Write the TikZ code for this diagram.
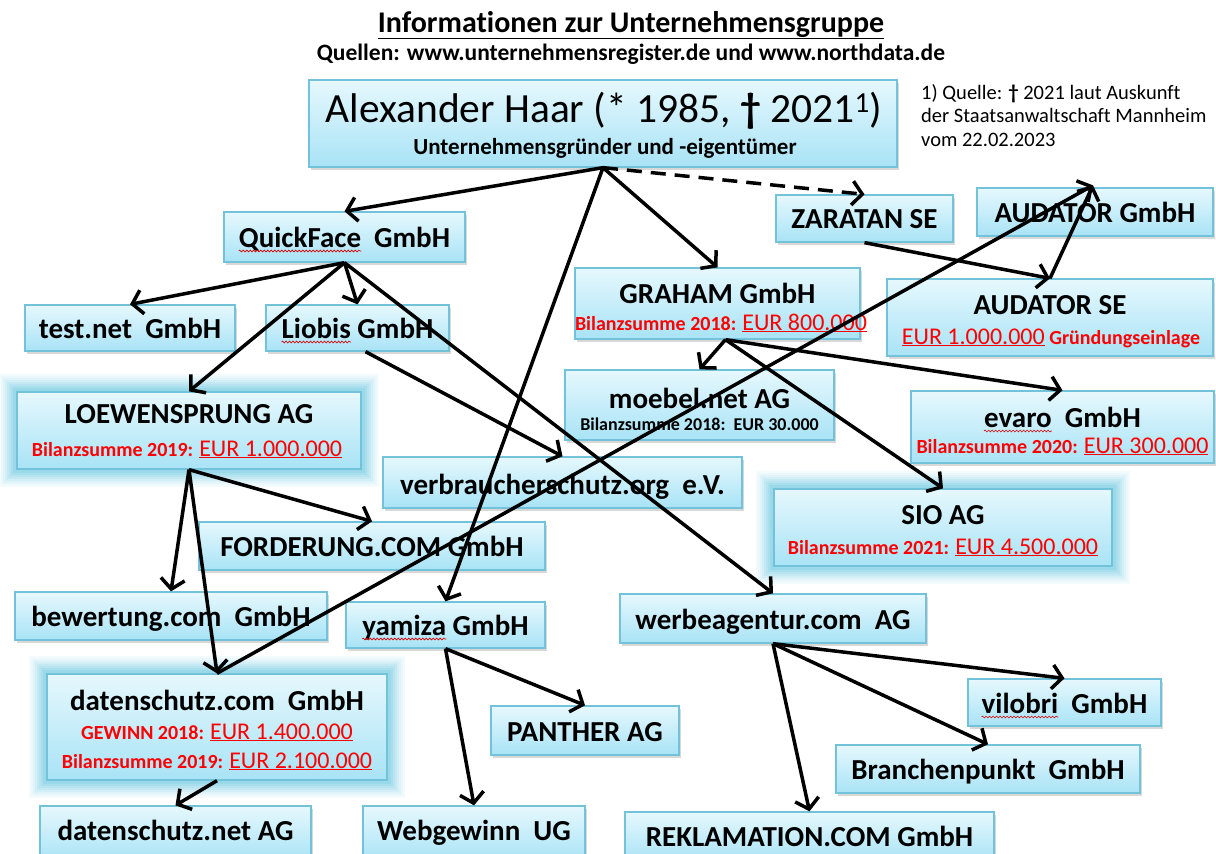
\documentclass[tikz,border=0pt]{standalone}
\usepackage{fontspec}
\setmainfont[Ligatures=CommonOff]{Carlito}
\usetikzlibrary{arrows.meta,shadows,calc,decorations.pathmorphing}
\definecolor{boxtop}{HTML}{E6F8FD}
\definecolor{boxbot}{HTML}{A8E3F6}
\definecolor{boxline}{HTML}{72C2D9}
\definecolor{glowc}{HTML}{33B5DC}
\definecolor{redt}{HTML}{FF0000}
\newcommand\bxfont{\bfseries\fontsize{29}{32}\selectfont}
\newcommand\rdfont{\bfseries\fontsize{20}{22}\selectfont\color{redt}}
\newcommand\eurtxt[1]{{\mdseries\fontsize{24}{26}\selectfont\underline{#1}}}
\begin{document}
\begin{tikzpicture}[x=1pt,y=-1pt,
  box/.style={draw=boxline, line width=1.3pt, top color=boxtop, bottom color=boxbot,
    drop shadow={shadow xshift=2pt, shadow yshift=-2.5pt, opacity=0.3}, inner sep=0pt},
  glowbox/.style={draw=boxline, line width=1.3pt, top color=boxtop, bottom color=boxbot, inner sep=0pt,
    preaction={draw=glowc, line width=36pt, opacity=0.05, rounded corners=18pt},
    preaction={draw=glowc, line width=32pt, opacity=0.05, rounded corners=16pt},
    preaction={draw=glowc, line width=28pt, opacity=0.06, rounded corners=14pt},
    preaction={draw=glowc, line width=24pt, opacity=0.07, rounded corners=12pt},
    preaction={draw=glowc, line width=20pt, opacity=0.08, rounded corners=10pt},
    preaction={draw=glowc, line width=16pt, opacity=0.09, rounded corners=8pt},
    preaction={draw=glowc, line width=12pt, opacity=0.10, rounded corners=6pt},
    preaction={draw=glowc, line width=8pt, opacity=0.12, rounded corners=4pt}},
  txt/.style={inner sep=0pt, anchor=base},
  ghost/.style={inner sep=0pt, anchor=base west},
  squig/.style={draw=red!85!black, line width=0.6pt, decorate,
    decoration={snake, segment length=3.5pt, amplitude=0.9pt}},
  arr/.style={line width=3.5pt, -{Straight Barb[length=10pt,width=24pt]}},
  dsh/.style={arr, dash pattern=on 15pt off 9pt}]
\fill[white] (0,0) rectangle (1216,854);
\useasboundingbox (0,0) rectangle (1216,854);

% title
\node[txt, font=\bfseries\fontsize{30}{32}\selectfont] (title) at (631,32) {\underline{Informationen zur Unternehmensgruppe}};
\node[txt, font=\bfseries\fontsize{23.5}{25}\selectfont] (src) at (631,60) {Quellen: www.unternehmensregister.de und www.northdata.de};

% note
\node[inner sep=0pt, anchor=north west, align=left, font=\fontsize{20.5}{23.5}\selectfont] (note) at (921,84)
  {1) Quelle: \textbf{†} 2021 laut Auskunft\\der Staatsanwaltschaft Mannheim\\vom 22.02.2023};

% boxes
\node[box, minimum width=588pt, minimum height=87pt] (top) at (603,123.5) {};
\node[box, minimum width=241pt, minimum height=50pt] (qf) at (344.5,237) {};
\node[box, minimum width=177pt, minimum height=47pt] (zar) at (864.5,218.5) {};
\node[box, minimum width=236pt, minimum height=48pt] (audg) at (1095,212) {};
\node[box, minimum width=285pt, minimum height=71pt] (graham) at (717.5,303.5) {};
\node[box, minimum width=326pt, minimum height=77pt] (auds) at (1050,317.5) {};
\node[box, minimum width=210pt, minimum height=46pt] (testnet) at (130,328) {};
\node[box, minimum width=183pt, minimum height=46pt] (liobis) at (357.5,328) {};
\node[glowbox, minimum width=344pt, minimum height=77pt] (loew) at (189,430.5) {};
\node[box, minimum width=269pt, minimum height=70pt] (moebel) at (699.5,405) {};
\node[box, minimum width=303pt, minimum height=72pt] (evaro) at (1062.5,427) {};
\node[box, minimum width=359pt, minimum height=51pt] (verb) at (562.5,482.5) {};
\node[glowbox, minimum width=338pt, minimum height=77pt] (sio) at (943,527.5) {};
\node[box, minimum width=346pt, minimum height=48pt] (ford) at (372,546) {};
\node[box, minimum width=312pt, minimum height=48pt] (bew) at (171,616) {};
\node[box, minimum width=199pt, minimum height=46pt] (yamiza) at (445.5,625) {};
\node[box, minimum width=306pt, minimum height=49pt] (werbe) at (773,618.5) {};
\node[glowbox, minimum width=340pt, minimum height=106pt] (dscom) at (217,727) {};
\node[box, minimum width=193pt, minimum height=47pt] (vilobri) at (1064.5,702.5) {};
\node[box, minimum width=188pt, minimum height=49pt] (panther) at (585,730.5) {};
\node[box, minimum width=304pt, minimum height=48pt] (branch) at (988,769) {};
\node[box, minimum width=271pt, minimum height=56pt] (dsnet) at (175.5,834) {};
\node[box, minimum width=222pt, minimum height=56pt] (webg) at (474,834) {};
\node[box, minimum width=369pt, minimum height=50pt] (rekl) at (809.5,837) {};

% texts
\node[txt, font=\fontsize{41.5}{44}\selectfont] (topt) at (604,122) {Alexander Haar (* 1985, \textbf{†} 2021\textsuperscript{1})};
\node[txt, font=\bfseries\fontsize{23}{25}\selectfont] (tops) at (605,154) {Unternehmensgründer und -eigentümer};

\node[txt, font=\bxfont] (qft) at (344.5,247) {QuickFace\ \ GmbH};
\node[txt, font=\bxfont] (zart) at (864.5,228) {ZARATAN SE};
\node[txt, font=\bxfont] (audgt) at (1095,222) {AUDATOR GmbH};
\node[txt, font=\bxfont] (grahamt) at (717.5,303) {GRAHAM GmbH};
\node[txt] (grahamr) at (721,330) {\rdfont Bilanzsumme 2018: \eurtxt{EUR 800.000}};
\node[txt, font=\bxfont] (audst) at (1050,314) {AUDATOR SE};
\node[txt] (audsr) at (1051,344) {\rdfont \eurtxt{EUR 1.000.000} Gründungseinlage};
\node[txt, font=\bxfont] (testnett) at (130,338) {test.net\ \ GmbH};
\node[txt, font=\bxfont] (liobist) at (357.5,338) {Liobis GmbH};
\node[txt, font=\bxfont] (loewt) at (189,423) {LOEWENSPRUNG AG};
\node[txt] (loewr) at (187,456) {\rdfont Bilanzsumme 2019: \eurtxt{EUR 1.000.000}};
\node[txt, font=\bxfont] (moebelt) at (699.5,408) {moebel.net AG};
\node[txt, font=\bfseries\fontsize{18}{20}\selectfont] (moebels) at (699.5,430) {Bilanzsumme 2018:\ \ EUR 30.000};
\node[txt, font=\bxfont] (evarot) at (1062.5,427) {evaro\ \ GmbH};
\node[txt] (evaror) at (1062.5,453) {\rdfont Bilanzsumme 2020: \eurtxt{EUR 300.000}};
\node[txt, font=\bxfont] (verbt) at (562.5,494) {verbraucherschutz.org\ \ e.V.};
\node[txt, font=\bxfont] (siot) at (943,524) {SIO AG};
\node[txt] (sior) at (943,554) {\rdfont Bilanzsumme 2021: \eurtxt{EUR 4.500.000}};
\node[txt, font=\bxfont] (fordt) at (372,556) {FORDERUNG.COM GmbH};
\node[txt, font=\bxfont] (bewt) at (171,626) {bewertung.com\ \ GmbH};
\node[txt, font=\bxfont] (yamizat) at (445.5,635) {yamiza GmbH};
\node[txt, font=\bxfont] (werbet) at (773,629) {werbeagentur.com\ \ AG};
\node[txt, font=\bxfont] (dscomt) at (217,710) {datenschutz.com\ \ GmbH};
\node[txt] (dscomr1) at (217,739) {\rdfont GEWINN 2018: \eurtxt{EUR 1.400.000}};
\node[txt] (dscomr2) at (217,768) {\rdfont Bilanzsumme 2019: \eurtxt{EUR 2.100.000}};
\node[txt, font=\bxfont] (vilobrit) at (1064.5,713) {vilobri\ \ GmbH};
\node[txt, font=\bxfont] (panthert) at (585,741) {PANTHER AG};
\node[txt, font=\bxfont] (brancht) at (988,779) {Branchenpunkt\ \ GmbH};
\node[txt, font=\bxfont] (dsnett) at (175.5,840) {datenschutz.net AG};
\node[txt, font=\bxfont] (webgt) at (474,840) {Webgewinn\ \ UG};
\node[txt, font=\bxfont] (reklt) at (809.5,846) {REKLAMATION.COM GmbH};

% spell-check squiggles
\node[ghost, font=\bxfont] (qfw) at (qft.base west) {\phantom{QuickFace}};
\node[ghost, font=\bxfont] (liw) at (liobist.base west) {\phantom{Liobis}};
\node[ghost, font=\bxfont] (yaw) at (yamizat.base west) {\phantom{yamiza}};
\node[ghost, font=\bxfont] (evw) at (evarot.base west) {\phantom{evaro}};
\node[ghost, font=\bxfont] (viw) at (vilobrit.base west) {\phantom{vilobri}};
\foreach \w in {qfw,liw,yaw,evw,viw}
  \path[squig] ($(\w.base west)+(0,4)$) -- ($(\w.base east)+(0,4)$);

% connectors
\draw[arr] (top.south) -- (qf.north);
\draw[arr] (top.south) -- (graham.north);
\draw[arr] (top.south) -- (yamiza.north);
\draw[dsh] (top.south) -- (zar.north);
\draw[arr] (qf.south) -- (testnet.north);
\draw[arr] (qf.south) -- (liobis.north);
\draw[arr] (qf.south) -- (loew.north);
\draw[arr] (qf.south) -- (werbe.north);
\draw[arr] ($(liobis.south)+(8,0)$) -- (verb.north);
\draw[arr] (loew.south) -- (ford.north);
\draw[arr] (loew.south) -- (bew.north);
\draw[arr] (loew.south) -- (dscom.north);
\draw[arr] (dscom.north) -- ($(audg.north)+(-2,-2)$);
\draw[arr] (auds.north) -- ($(audg.north)+(-2,-2)$);
\draw[arr] (zar.south) -- (auds.north);
\draw[arr] ($(graham.south)+(8,0)$) -- (moebel.north);
\draw[arr] ($(graham.south)+(8,0)$) -- (evaro.north);
\draw[arr] ($(graham.south)+(8,0)$) -- (sio.north);
\draw[arr] (dscom.south) -- (dsnet.north);
\draw[arr] (yamiza.south) -- (panther.north);
\draw[arr] (yamiza.south) -- (webg.north);
\draw[arr] (werbe.south) -- (vilobri.north);
\draw[arr] (werbe.south) -- (branch.north);
\draw[arr] (werbe.south) -- (rekl.north);
\end{tikzpicture}
\end{document}
